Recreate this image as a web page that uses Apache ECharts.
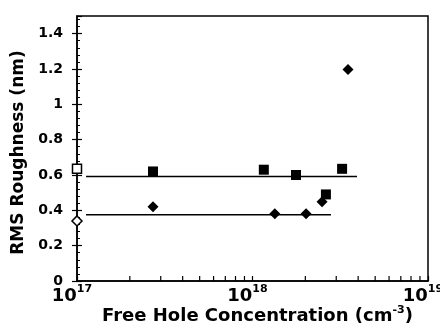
<!DOCTYPE html>
<html><head><meta charset="utf-8">
<script src="https://cdn.jsdelivr.net/npm/echarts@6/dist/echarts.min.js"></script>
<style>html,body{margin:0;padding:0;background:#fff}#c{width:440px;height:330px}</style>
</head><body><div id="c"></div>
<script>
// Data
const squareX = [2.71e17, 1.16e18, 1.77e18, 3.24e18, 2.62e18];
const squareY = [0.62, 0.63, 0.60, 0.635, 0.49];
const diamondX = [2.71e17, 1.34e18, 2.02e18, 2.49e18, 3.50e18];
const diamondY = [0.42, 0.38, 0.38, 0.448, 1.197];
const openSquareX = [1e17];
const openSquareY = [0.635];
const openDiamondX = [1e17];
const openDiamondY = [0.34];
const upperFitX = [1.126e17, 3.94e18];
const upperFitY = [0.592, 0.592];
const lowerFitX = [1.126e17, 2.80e18];
const lowerFitY = [0.375, 0.375];
const xTickValues = [1e17, 1e18, 1e19];
const xTickExponents = ['17', '18', '19'];
const xMinorTickValues = [2e17,3e17,4e17,5e17,6e17,7e17,8e17,9e17,2e18,3e18,4e18,5e18,6e18,7e18,8e18,9e18];
const yTickLabels = ['0','0.2','0.4','0.6','0.8','1','1.2','1.4'];

const zip = (xs, ys) => xs.map((x, i) => [x, ys[i]]);
const FONT = 'DejaVu Sans';

const chart = echarts.init(document.getElementById('c'), null, {renderer: 'canvas'});
const yBase = {type: 'value', min: 0, max: 1.5, position: 'left', offset: 0};
chart.setOption({
  animation: false,
  backgroundColor: '#fff',
  grid: {left: 77, right: 12, top: 16, bottom: 49, show: true, borderColor: '#000', borderWidth: 1.5,
         containLabel: false, outerBoundsMode: 'none'},
  xAxis: {
    type: 'log', logBase: 10, min: 1e17, max: 1e19,
    axisLine: {lineStyle: {color: '#000', width: 1.5}},
    axisTick: {inside: true, length: 5, lineStyle: {color: '#000', width: 1.2}},
    splitLine: {show: false},
    axisLabel: {
      margin: 3, color: '#000', align: 'center',
      formatter: v => {
        const i = xTickValues.findIndex(t => Math.abs(Math.log10(t) - Math.log10(v)) < 1e-6);
        return i < 0 ? '' : '{b|10}{s|' + xTickExponents[i] + '}{sp|}';
      },
      rich: {
        b: {fontFamily: FONT, fontWeight: 'bold', fontSize: 18, color: '#000', verticalAlign: 'bottom'},
        s: {fontFamily: FONT, fontWeight: 'bold', fontSize: 11, color: '#000', verticalAlign: 'top', padding: [0,0,10,0]},
        sp: {width: 10, fontSize: 11}
      }
    },
    name: '{t|Free Hole Concentration (cm}{s|-3}{t|)}',
    nameLocation: 'middle', nameGap: 24, nameMoveOverlap: false,
    nameTextStyle: {
      padding: [0, 0, 0, 10],
      rich: {
        t: {fontFamily: FONT, fontWeight: 'bold', fontSize: 18, color: '#000'},
        s: {fontFamily: FONT, fontWeight: 'bold', fontSize: 11, color: '#000', padding: [0,0,12,0]}
      }
    }
  },
  yAxis: [
    Object.assign({}, yBase, {
      interval: 0.2,
      axisLine: {show: true, lineStyle: {color: '#000', width: 1.5}},
      axisTick: {show: true, inside: false, length: 5, lineStyle: {color: '#000', width: 1.2}},
      splitLine: {show: false},
      axisLabel: {
        margin: 14, color: '#000', fontFamily: FONT, fontWeight: 'bold', fontSize: 14,
        showMaxLabel: false,
        formatter: v => { const i = Math.round(v / 0.2); return Math.abs(v - i * 0.2) < 1e-6 && yTickLabels[i] ? yTickLabels[i] : ''; }
      },
      name: 'RMS Roughness (nm)', nameLocation: 'middle', nameGap: 50, nameRotate: 90, nameMoveOverlap: false,
      nameTextStyle: {fontFamily: FONT, fontWeight: 'bold', fontSize: 17, color: '#000', padding: [0, 8, 0, 0]}
    }),
    Object.assign({}, yBase, {
      interval: 0.2,
      axisLine: {show: false}, axisLabel: {show: false}, splitLine: {show: false},
      axisTick: {show: true, inside: true, length: 5, lineStyle: {color: '#000', width: 1.2}}
    }),
    Object.assign({}, yBase, {
      interval: 0.04,
      axisLine: {show: false}, axisLabel: {show: false}, splitLine: {show: false},
      axisTick: {show: true, inside: true, length: 3, lineStyle: {color: '#000', width: 1}}
    })
  ],
  series: [
    {type: 'line', data: zip(upperFitX, upperFitY), symbol: 'none', lineStyle: {color: '#000', width: 1.5}, z: 2},
    {type: 'line', data: zip(lowerFitX, lowerFitY), symbol: 'none', lineStyle: {color: '#000', width: 1.5}, z: 2},
    {type: 'scatter', data: xMinorTickValues.map(x => [x, 0]), symbol: 'rect', symbolSize: [1.2, 5], symbolOffset: [0, -2.5],
      itemStyle: {color: '#000', opacity: 1}, clip: false, silent: true, z: 6},
    {type: 'scatter', data: zip(squareX, squareY), symbol: 'rect', symbolSize: 10, itemStyle: {color: '#000', opacity: 1}, z: 4},
    {type: 'scatter', data: zip(diamondX, diamondY), symbol: 'diamond', symbolSize: 11, itemStyle: {color: '#000', opacity: 1}, z: 4},
    {type: 'scatter', data: zip(openSquareX, openSquareY), symbol: 'rect', symbolSize: 9, clip: false,
      itemStyle: {color: '#fff', borderColor: '#000', borderWidth: 1.5, opacity: 1}, z: 5},
    {type: 'scatter', data: zip(openDiamondX, openDiamondY), symbol: 'diamond', symbolSize: 10, clip: false,
      itemStyle: {color: '#fff', borderColor: '#000', borderWidth: 1.5, opacity: 1}, z: 5}
  ]
});
</script></body></html>
